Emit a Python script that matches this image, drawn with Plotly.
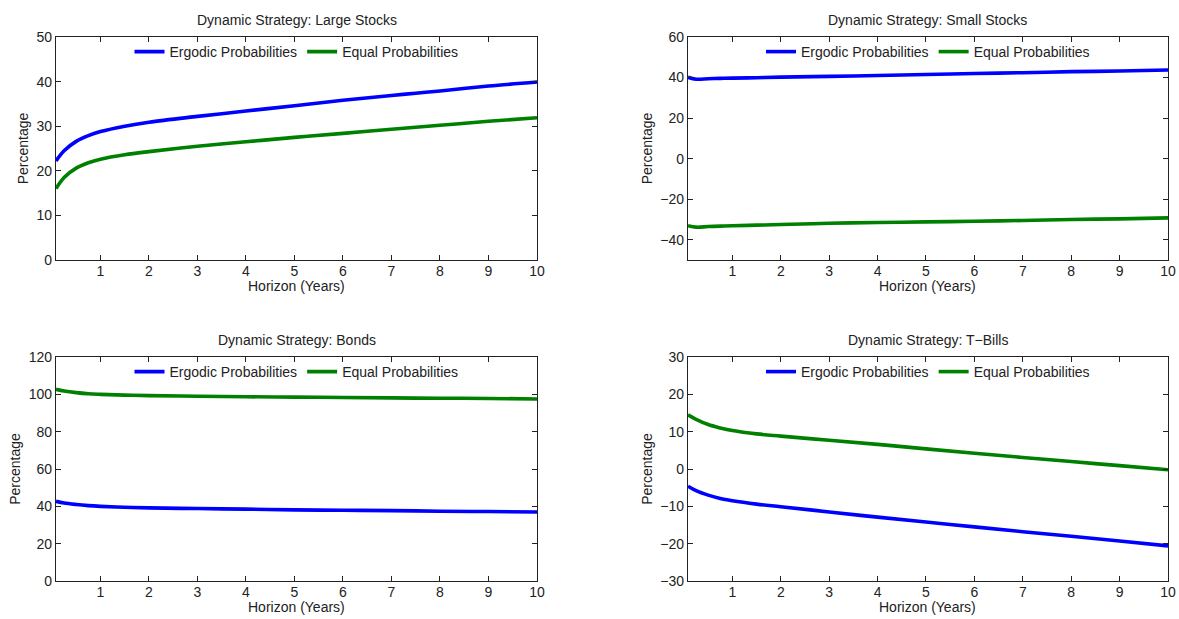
import plotly.graph_objects as go

horizon = [1/12, 0.25, 0.5, 0.75, 1, 1.5, 2, 3, 4, 5, 6, 7, 8, 9, 10]

large_ergodic = [22.2, 24.5, 26.6, 27.9, 28.8, 30.0, 30.9, 32.2, 33.4, 34.6, 35.8, 36.9, 37.9, 39.0, 39.9]
large_equal = [16.0, 18.5, 20.6, 21.8, 22.6, 23.6, 24.3, 25.5, 26.5, 27.5, 28.4, 29.3, 30.2, 31.1, 31.9]

small_ergodic = [40.1, 39.2, 39.4, 39.6, 39.7, 39.9, 40.2, 40.6, 41.0, 41.5, 42.0, 42.4, 42.9, 43.2, 43.7]
small_equal = [-33.1, -33.8, -33.5, -33.3, -33.1, -32.8, -32.5, -31.9, -31.5, -31.2, -30.9, -30.5, -30.0, -29.7, -29.2]

bonds_ergodic = [42.7, 41.8, 41.0, 40.4, 40.0, 39.5, 39.2, 38.8, 38.5, 38.1, 37.9, 37.7, 37.4, 37.2, 37.0]
bonds_equal = [102.7, 101.8, 100.9, 100.3, 100.0, 99.6, 99.3, 99.0, 98.7, 98.5, 98.3, 98.1, 97.9, 97.8, 97.5]

tbills_ergodic = [-4.6, -5.8, -7.0, -7.9, -8.5, -9.4, -10.1, -11.5, -12.9, -14.2, -15.5, -16.8, -18.0, -19.3, -20.6]
tbills_equal = [14.5, 13.3, 11.9, 11.0, 10.3, 9.4, 8.8, 7.7, 6.6, 5.4, 4.2, 3.1, 2.0, 0.9, -0.2]

titles = ["Dynamic Strategy: Large Stocks", "Dynamic Strategy: Small Stocks",
          "Dynamic Strategy: Bonds", "Dynamic Strategy: T\u2212Bills"]
x_title = "Horizon (Years)"
y_title = "Percentage"
y_ranges = [[0, 50], [-50, 60], [0, 120], [-30, 30]]
y_dticks = [10, 20, 20, 10]
x_ticks = list(range(1, 11))
series = [(large_ergodic, large_equal), (small_ergodic, small_equal),
          (bonds_ergodic, bonds_equal), (tbills_ergodic, tbills_equal)]

W, H = 1179, 619
col_px = [(56, 537), (688, 1168)]
row_px = [(37, 260), (357, 581)]

FONT = "Liberation Sans, Arial, Helvetica, sans-serif"
FS = 14
BLUE = "#0000FF"
GREEN = "#008000"
INK = "#222222"

fig = go.Figure()
layout = dict(
    width=W, height=H, autosize=False,
    margin=dict(l=0, r=0, t=0, b=0, pad=0, autoexpand=False),
    paper_bgcolor="white", plot_bgcolor="white",
    font=dict(family=FONT, size=FS, color=INK),
    showlegend=True,
)

annotations = []
for i in range(4):
    r, c = divmod(i, 2)
    x0, x1 = col_px[c]
    ytop, ybot = row_px[r]
    xd = [x0 / W, x1 / W]
    yd = [1 - ybot / H, 1 - ytop / H]
    sfx = "" if i == 0 else str(i + 1)
    leg = "legend" if i == 0 else f"legend{i + 1}"
    erg, eq = series[i]
    fig.add_trace(go.Scatter(x=horizon, y=erg, mode="lines", name="Ergodic Probabilities",
                             line=dict(color=BLUE, width=3.6, shape="spline", smoothing=1.0),
                             xaxis="x" + sfx, yaxis="y" + sfx, legend=leg))
    fig.add_trace(go.Scatter(x=horizon, y=eq, mode="lines", name="Equal Probabilities",
                             line=dict(color=GREEN, width=3.6, shape="spline", smoothing=1.0),
                             xaxis="x" + sfx, yaxis="y" + sfx, legend=leg))
    layout["xaxis" + sfx] = dict(
        domain=xd, range=[1/12, 10], anchor="y" + sfx, automargin=False,
        tickmode="array", tickvals=x_ticks, ticktext=[str(t) for t in x_ticks],
        ticks="inside", ticklen=5, tickcolor=INK, mirror="allticks",
        showline=True, linecolor=INK, linewidth=1.2, showgrid=False, zeroline=False,
        tickfont=dict(size=FS), ticklabelstandoff=-2,
    )
    layout["yaxis" + sfx] = dict(
        domain=yd, range=y_ranges[i], anchor="x" + sfx, dtick=y_dticks[i], automargin=False,
        ticks="inside", ticklen=5, tickcolor=INK, mirror="allticks",
        showline=True, linecolor=INK, linewidth=1.2, showgrid=False, zeroline=False,
        title=dict(text=y_title, standoff=4, font=dict(size=FS)),
        tickfont=dict(size=FS), tickformat="d",
    )
    layout[leg] = dict(
        orientation="h", x=(xd[0] + xd[1]) / 2, xanchor="center",
        y=yd[1] + 1 / H, yanchor="top", bgcolor="rgba(0,0,0,0)",
        font=dict(size=FS), itemwidth=30, tracegroupgap=0,
    )
    annotations.append(dict(
        text=titles[i], x=(xd[0] + xd[1]) / 2, y=yd[1] + 7 / H,
        xref="paper", yref="paper", xanchor="center", yanchor="bottom",
        showarrow=False, font=dict(size=FS, family=FONT, color=INK),
    ))
    annotations.append(dict(
        text=x_title, x=(xd[0] + xd[1]) / 2, y=yd[0] - 26 / H,
        xref="paper", yref="paper", xanchor="center", yanchor="middle",
        showarrow=False, font=dict(size=FS, family=FONT, color=INK),
    ))

layout["annotations"] = annotations
fig.update_layout(**layout)
fig.write_html("out.html")
